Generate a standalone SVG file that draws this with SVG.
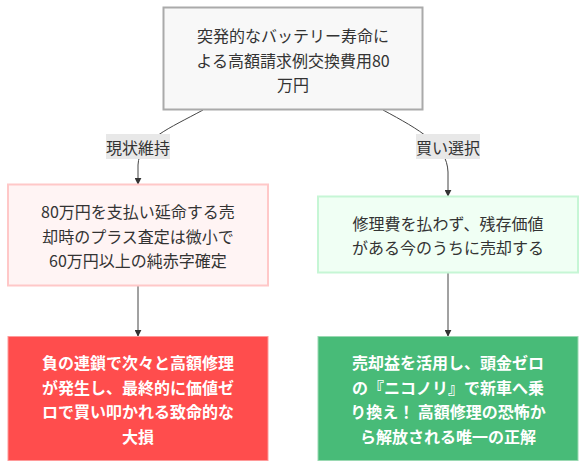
<svg xmlns="http://www.w3.org/2000/svg" width="586" height="470" viewBox="0 0 586 470">
<defs>
<marker id="arr" viewBox="0 0 10 10" refX="9" refY="5" markerWidth="7" markerHeight="7" markerUnits="userSpaceOnUse" orient="auto">
<path d="M0,0 L10,5 L0,10 z" fill="#333"/>
</marker>
<style>
text{font-family:"Noto Sans CJK JP","Noto Sans",sans-serif;font-size:16px;text-anchor:middle;dominant-baseline:central}
.dk{fill:#333}
.wh{fill:#fff;font-weight:bold}
.edge{fill:none;stroke:#444;stroke-width:1;marker-end:url(#arr)}
.lbl{fill:#e8e8e8}
</style>
</defs>
<rect width="586" height="470" fill="#fff"/>
<g id="connectors">
<path class="edge" d="M203,110 C170,128 139,140 138,165 L138,184"/>
<path class="edge" d="M383,110 C420,130 447,145 448,172 L448,196"/>
<path class="edge" d="M138,286 L138,336"/>
<path class="edge" d="M448,273 L448,336"/>
</g>
<g id="label-keep">
<rect class="lbl" x="106" y="134" width="64" height="25"/>
<text class="dk" x="138" y="146.5">現状維持</text>
</g>
<g id="label-smart">
<rect class="lbl" x="416" y="134" width="64" height="25"/>
<text class="dk" x="448" y="146.5">買い選択</text>
</g>
<g id="node-top">
<rect x="163.5" y="7.5" width="259" height="102" fill="#f8f8f8" stroke="#aaa" stroke-width="2"/>
<text class="dk" x="293" y="35">突発的なバッテリー寿命に</text>
<text class="dk" x="293" y="59.5">よる高額請求例交換費用80</text>
<text class="dk" x="293" y="84">万円</text>
</g>
<g id="node-keep">
<rect x="8" y="184.5" width="260" height="101" fill="#fff4f4" stroke="#ffc8c8" stroke-width="2"/>
<text class="dk" x="138" y="211">80万円を支払い延命する売</text>
<text class="dk" x="138" y="235.5">却時のプラス査定は微小で</text>
<text class="dk" x="138" y="260">60万円以上の純赤字確定</text>
</g>
<g id="node-smart">
<rect x="318" y="196.5" width="260" height="76" fill="#f0fff4" stroke="#c6f6d5" stroke-width="2"/>
<text class="dk" x="448" y="222.5">修理費を払わず、残存価値</text>
<text class="dk" x="448" y="247">がある今のうちに売却する</text>
</g>
<g id="node-bad">
<rect x="8" y="336.5" width="260" height="124" fill="#ff4d4d" stroke="#ff9a9a" stroke-width="1"/>
<text class="wh" x="138" y="362">負の連鎖で次々と高額修理</text>
<text class="wh" x="138" y="386.5">が発生し、最終的に価値ゼ</text>
<text class="wh" x="138" y="411">ロで買い叩かれる致命的な</text>
<text class="wh" x="138" y="435.5">大損</text>
</g>
<g id="node-good">
<rect x="318" y="336.5" width="260" height="124" fill="#48bb78" stroke="#9ad9b2" stroke-width="1"/>
<text class="wh" x="448" y="362">売却益を活用し、頭金ゼロ</text>
<text class="wh" x="448" y="386.5">の『ニコノリ』で新車へ乗</text>
<text class="wh" x="448" y="411">り換え！ 高額修理の恐怖か</text>
<text class="wh" x="448" y="435.5">ら解放される唯一の正解</text>
</g>
</svg>
